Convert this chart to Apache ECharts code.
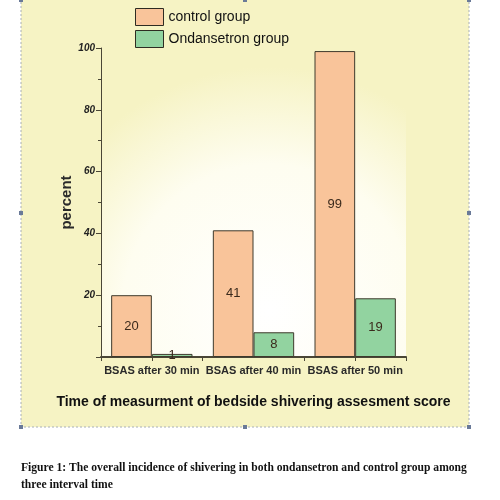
<!DOCTYPE html>
<html style="height: 100%">
<head>
<meta charset="utf-8">
<title>BSAS shivering</title>
<script src="https://cdn.jsdelivr.net/npm/echarts@6/dist/echarts.min.js"></script>
</head>
<body style="height: 100%; margin: 0; background: #fff">
<div id="container" style="width: 500px; height: 500px"></div>
<script type="text/javascript">
var categories = ['BSAS after 30 min', 'BSAS after 40 min', 'BSAS after 50 min'];
var controlGroup = [20, 41, 99];
var ondansetronGroup = [1, 8, 19];
var yTicks = [0, 20, 40, 60, 80, 100];

var dom = document.getElementById('container');
var myChart = echarts.init(dom);

var labelStyle = {
    show: true,
    position: 'inside',
    color: '#3b2a1c',
    fontFamily: 'Liberation Sans, Arial, sans-serif',
    fontSize: 13
};

// little blue handles round the frame
var handles = [[21, 0], [245, 0], [469, 0], [21, 213], [469, 213], [21, 427], [245, 427], [469, 427]];
var graphics = [{
    type: 'rect',
    z: -10,
    shape: {x: 21, y: -2, width: 448, height: 429},
    style: {fill: '#f6f3c4', stroke: '#a9b0b8', lineWidth: 1, lineDash: [2, 2]}
}];
handles.forEach(function (h) {
    graphics.push({
        type: 'rect',
        z: -9,
        shape: {x: h[0] - 2, y: h[1] - 2, width: 4, height: 4},
        style: {fill: '#6a7a98'}
    });
});
graphics.push({
    type: 'text',
    left: 21,
    top: 459,
    style: {
        text: 'Figure 1: The overall incidence of shivering in both ondansetron and control group among\nthree interval time',
        font: 'bold 11.6px "Liberation Serif", "Times New Roman", serif',
        fill: '#111',
        lineHeight: 17
    }
});

var option = {
    backgroundColor: '#ffffff',
    animation: false,
    graphic: graphics,
    legend: {
        orient: 'vertical',
        left: 130,
        top: 3,
        icon: 'rect',
        itemWidth: 28,
        itemHeight: 17,
        itemGap: 4,
        itemStyle: {borderColor: '#2e2c22', borderWidth: 1},
        textStyle: {
            color: '#111',
            fontFamily: 'Liberation Sans, Arial, sans-serif',
            fontSize: 14
        },
        data: ['control group', 'Ondansetron group']
    },
    grid: {
        left: 101,
        right: 94,
        top: 48,
        bottom: 143,
        show: true,
        borderWidth: 0,
        backgroundColor: {
            type: 'radial',
            x: 0.55, y: 0.85, r: 0.8,
            colorStops: [
                {offset: 0, color: '#ffffff'},
                {offset: 0.6, color: '#fefdf0'},
                {offset: 1, color: '#f6f3c4'}
            ]
        }
    },
    xAxis: [{
        type: 'category',
        data: categories,
        name: 'Time of measurment of bedside shivering assesment score',
        nameLocation: 'middle',
        nameGap: 38,
        nameTextStyle: {
            color: '#111',
            fontWeight: 'bold',
            fontFamily: 'Liberation Sans, Arial, sans-serif',
            fontSize: 14
        },
        axisLine: {lineStyle: {color: '#4a4636', width: 2}},
        axisTick: {show: true, length: 4, inside: false, lineStyle: {color: '#4a4636'}},
        axisLabel: {
            interval: 0,
            color: '#2a2a2a',
            fontWeight: 'bold',
            fontFamily: '"Liberation Sans Narrow", "Liberation Sans", sans-serif',
            fontSize: 11,
            margin: 8
        }
    }, {
        type: 'category',
        data: categories,
        position: 'bottom',
        axisLine: {show: false},
        axisTick: {show: true, alignWithLabel: true, length: 4, lineStyle: {color: '#4a4636'}},
        axisLabel: {show: false}
    }],
    yAxis: {
        type: 'value',
        min: yTicks[0],
        max: yTicks[yTicks.length - 1],
        interval: 20,
        name: 'percent',
        nameLocation: 'middle',
        nameRotate: 90,
        nameGap: 27,
        nameMoveOverlap: false,
        nameTextStyle: {
            color: '#2a2a2a',
            fontWeight: 'bold',
            fontFamily: 'Liberation Sans, Arial, sans-serif',
            fontSize: 15
        },
        splitLine: {show: false},
        axisLine: {show: true, lineStyle: {color: '#4a4636', width: 1}},
        axisTick: {show: true, length: 5, lineStyle: {color: '#4a4636'}},
        minorTick: {show: true, splitNumber: 2, length: 3, lineStyle: {color: '#4a4636'}},
        axisLabel: {
            showMinLabel: false,
            formatter: function (v) { return v === 0 ? '' : String(v); },
            color: '#222',
            fontStyle: 'italic',
            fontWeight: 'bold',
            fontFamily: 'Liberation Sans, Arial, sans-serif',
            fontSize: 10,
            margin: 6
        }
    },
    series: [{
        name: 'control group',
        type: 'bar',
        data: controlGroup,
        barGap: '0%',
        barCategoryGap: '20%',
        itemStyle: {color: '#f9c49a', borderColor: '#3e3a2c', borderWidth: 1},
        label: labelStyle
    }, {
        name: 'Ondansetron group',
        type: 'bar',
        data: ondansetronGroup,
        barGap: '0%',
        barCategoryGap: '20%',
        itemStyle: {color: '#92d3a0', borderColor: '#3e3a2c', borderWidth: 1},
        label: labelStyle
    }]
};

myChart.setOption(option);
</script>
</body>
</html>
